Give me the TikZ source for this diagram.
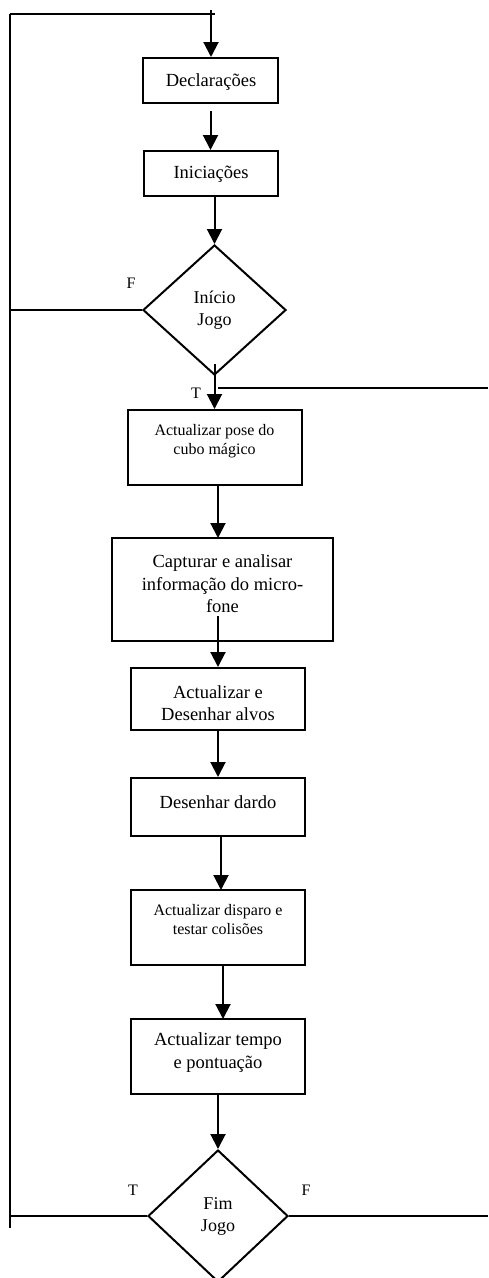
\documentclass[tikz,border=0pt]{standalone}
\usepackage{fontspec}
\setmainfont{Liberation Serif}
\usetikzlibrary{arrows.meta,shapes.geometric}
\begin{document}
\begin{tikzpicture}[x=1pt,y=-1pt,
  line width=2pt,
  box/.style={draw, rectangle, inner sep=0pt, line width=2pt},
  dec/.style={draw, diamond, inner sep=0pt, line width=2pt, font=\fontsize{18}{22}\selectfont, align=center},
  big/.style={inner sep=0pt, align=center, font=\fontsize{18.5}{22.5}\selectfont},
  small/.style={inner sep=0pt, align=center, font=\fontsize{16}{18.5}\selectfont},
  lab/.style={inner sep=0pt, font=\fontsize{16}{18}\selectfont},
  arr/.style={-{Triangle[width=15pt,length=15pt]}, line width=2pt},
  ln/.style={line width=2pt}]
\useasboundingbox (0,0) rectangle (488,1278);
\fill[white] (0,0) rectangle (488,1278);
% boxes
\node[box, minimum width=135pt, minimum height=45pt] (decl) at (210.5,80.5) {};
\node[big] (declt) at (211,82) {Declarações};
\node[box, minimum width=134pt, minimum height=45pt] (inic) at (211,173.5) {};
\node[big] (inict) at (211,174) {Iniciações};
\node[dec, minimum width=143pt, minimum height=130pt] (inicio) at (214.5,310) {Início\\Jogo};
\node[box, minimum width=174pt, minimum height=75pt] (pose) at (215,447.5) {};
\node[small] (poset) at (214.5,441) {Actualizar pose do\\cubo mágico};
\node[box, minimum width=221pt, minimum height=103pt] (capt) at (222.5,589.5) {};
\node[big] (captt) at (222.5,584) {Capturar e analisar\\informação do micro-\\fone};
\node[box, minimum width=174pt, minimum height=62pt] (atual) at (218,699) {};
\node[big] (atualt) at (218,703) {Actualizar e\\Desenhar alvos};
\node[box, minimum width=174pt, minimum height=58pt] (dardo) at (218,807) {};
\node[big] (dardot) at (218,802) {Desenhar dardo};
\node[box, minimum width=174pt, minimum height=75pt] (disp) at (218,927.5) {};
\node[small] (dispt) at (218,919.5) {Actualizar disparo e\\testar colisões};
\node[box, minimum width=174pt, minimum height=75pt] (tempo) at (218,1056.5) {};
\node[big] (tempot) at (218,1052.5) {Actualizar tempo\\e pontuação};
\node[dec, minimum width=140pt, minimum height=132pt] (fim) at (218,1216) {Fim\\Jogo};
% loop coordinates
\coordinate (tl) at (10,14);
\coordinate (tr) at (215,14);
\coordinate (ain) at (211,10);
\coordinate (bl) at (10,1228);
\coordinate (ts) at (218,388);
\coordinate (te) at (488,388);
\coordinate (fe) at (488,1216);
% loop lines
\draw[ln] (tl) -- (tr);
\draw[ln] (tl) -- (bl);
\draw[arr] (ain) -- (ain |- decl.north);
\draw[ln] (inicio.west) -- (inicio.west -| tl);
\draw[ln] (ts) -- (te);
\draw[ln] (fim.west) -- (fim.west -| tl);
\draw[ln] (fim.east) -- (fe);
% arrows
\draw[arr] ([yshift=-7pt]decl.south) -- (decl.south |- inic.north);
\draw[arr] (inic.south -| inicio.north) -- (inicio.north);
\draw[arr] ([yshift=12pt]inicio.south) -- (inicio.south |- pose.north);
\draw[arr] (218,485) -- (218,538);
\draw[arr] ([yshift=26pt]capt.south -| atual.north) -- (atual.north);
\draw[arr] (atual.south) -- (dardo.north);
\draw[arr] (221,836) -- (221,890);
\draw[arr] (223,965) -- (223,1019);
\draw[arr] (tempo.south) -- (fim.north);
% labels
\node[lab] (lf1) at (131,283) {F};
\node[lab] (lt1) at (196,393) {T};
\node[lab] (lt2) at (133,1190) {T};
\node[lab] (lf2) at (306,1190) {F};
\end{tikzpicture}
\end{document}
